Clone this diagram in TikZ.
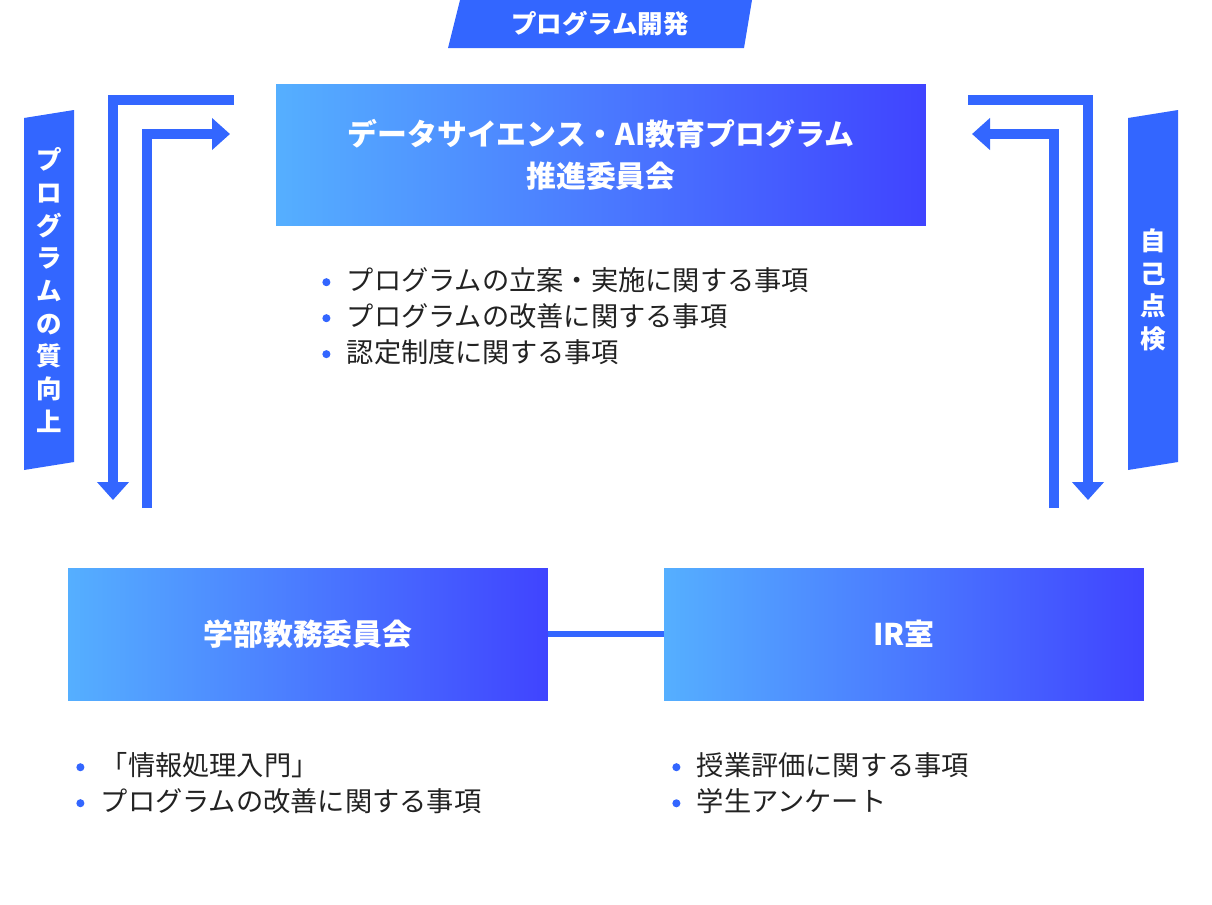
\documentclass[tikz,border=0pt]{standalone}
\usepackage{fontspec}
\setmainfont{Noto Sans CJK JP}
\usetikzlibrary{arrows.meta,positioning}
\definecolor{flowblue}{RGB}{51,102,255}
\definecolor{gradL}{RGB}{85,175,255}
\definecolor{gradR}{RGB}{64,68,255}
\definecolor{textgray}{RGB}{34,34,34}
\tikzset{
  gradbox/.style={left color=gradL, right color=gradR, draw=none,
    text=white, font=\bfseries\fontsize{17}{24}\selectfont, align=center, inner sep=0pt},
  bulletline/.style={anchor=west, text=textgray, font=\fontsize{15.5}{20}\selectfont, inner sep=0pt},
  flowarrow/.style={flowblue, line width=5.6pt,
    -{Triangle[length=0.36cm, width=0.62cm]}},
  tablabel/.style={text=white, font=\bfseries\fontsize{14.5}{18.6}\selectfont, align=center, inner sep=0pt}
}
\newcommand{\bul}{{\color{flowblue}\raisebox{0.15em}{\tikz\fill (0,0) circle (2.3pt);}}\hspace{0.6em}}
\begin{document}
\begin{tikzpicture}[x=0.02cm, y=-0.02cm]
\useasboundingbox (0,0) rectangle (1212,904);
% tabs
\fill[flowblue] (460,0) -- (752,0) -- (744,48) -- (448,48) -- cycle;
\node[tablabel] (devtab) at (600,24) {プログラム開発};
\fill[flowblue] (24,118) -- (74,110) -- (74,462) -- (24,470) -- cycle;
\node[tablabel] (qualtab) at (49,290) {プ\\ロ\\グ\\ラ\\ム\\の\\質\\向\\上};
\fill[flowblue] (1128,118) -- (1178,110) -- (1178,462) -- (1128,470) -- cycle;
\node[tablabel] (checktab) at (1153,290) {自\\己\\点\\検};

% boxes
\node[gradbox, minimum width=13cm, minimum height=2.84cm] (council) at (601,155)
  {データサイエンス・AI教育プログラム\\推進委員会};
\node[gradbox, minimum width=9.6cm, minimum height=2.64cm] (faculty) at (308,634) {学部教務委員会};
\node[gradbox, minimum width=9.6cm, minimum height=2.64cm] (ir) at (904,634) {IR室};
\draw[flowblue, line width=3.4pt] (faculty.east) -- (ir.west);

% bullets
\node[bulletline] (c1) at (322,280) {\bul プログラムの立案・実施に関する事項};
\node[bulletline, below=0.72cm of c1.west, anchor=west] (c2) {\bul プログラムの改善に関する事項};
\node[bulletline, below=0.72cm of c2.west, anchor=west] (c3) {\bul 認定制度に関する事項};
\node[bulletline] (f1) at (76,765) {\bul 「情報処理入門」};
\node[bulletline, below=0.72cm of f1.west, anchor=west] (f2) {\bul プログラムの改善に関する事項};
\node[bulletline] (r1) at (672,765) {\bul 授業評価に関する事項};
\node[bulletline, below=0.72cm of r1.west, anchor=west] (r2) {\bul 学生アンケート};

% arrows
\coordinate (lo) at (234,100); \coordinate (lodn) at (113,500);
\coordinate (listart) at (147,508); \coordinate (liend) at (230,134);
\draw[flowarrow] (lo) -| (lodn);
\draw[flowarrow] (listart) |- (liend);
\coordinate (ro) at (968,100); \coordinate (rodn) at (1088,500);
\coordinate (ristart) at (1054,508); \coordinate (riend) at (972,134);
\draw[flowarrow] (ro) -| (rodn);
\draw[flowarrow] (ristart) |- (riend);
\end{tikzpicture}
\end{document}
